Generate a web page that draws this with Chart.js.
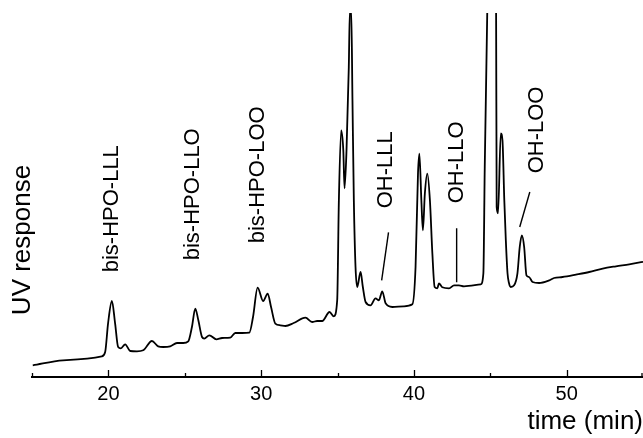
<!DOCTYPE html>
<html lang="en">

<head>
    <meta charset="UTF-8">
    <title>UV chromatogram</title>
    <style>
        body {
            margin: 0;
            background: #fff;
        }

        canvas {
            display: block;
        }
    </style>
    <script src="https://cdn.jsdelivr.net/npm/chart.js"></script>
</head>

<body>
    <canvas id="chart" width="643" height="438"></canvas>

    <script>
        // retention time (min) and detector signal (arbitrary units)
        const times = [
            15.05, 17.03, 19.57, 19.79, 19.98, 20.23, 20.44, 20.64, 20.82, 21.10,
            21.43, 21.87, 22.28, 22.85, 23.26, 23.59, 24.05, 24.49, 24.90, 25.23,
            25.47, 25.69, 25.89, 26.13, 26.28, 26.61, 27.07, 27.44, 27.98, 28.31,
            28.75, 29.23, 29.47, 29.77, 30.13, 30.43, 30.65, 30.93, 31.26, 31.59,
            32.13, 32.90, 33.34, 33.67, 34.00, 34.48, 34.76, 34.98, 35.09, 35.24,
            35.38, 35.46, 35.59, 35.74, 35.81, 35.90, 35.98, 36.07, 36.18, 36.29,
            36.51, 36.66, 36.84, 37.16, 37.49, 37.71, 37.93, 38.15, 38.59, 39.33,
            39.90, 40.11, 40.27, 40.36, 40.49, 40.59, 40.72, 40.88, 41.05, 41.21,
            41.36, 41.54, 41.64, 41.86, 42.30, 42.63, 42.95, 43.28, 44.38, 44.55,
            44.64, 44.82, 45.07, 45.38, 45.42, 45.51, 45.69, 45.80, 45.92, 46.02,
            46.13, 46.23, 46.34, 46.56, 46.78, 46.93, 47.07, 47.22, 47.37, 47.54,
            47.77, 48.20, 48.86, 49.18, 49.73, 50.61, 51.48, 52.36, 53.23, 54.10,
            55.00
        ];
        const response = [
            11.7, 16.7, 20.7, 25.0, 53.7, 76.0, 53.7, 30.0, 28.7, 32.7,
            26.0, 25.7, 26.7, 36.0, 30.7, 30.0, 30.7, 34.0, 34.0, 35.7,
            50.0, 68.4, 56.7, 40.0, 38.4, 41.7, 37.7, 39.0, 39.4, 44.0,
            44.0, 44.4, 60.0, 89.4, 76.0, 83.4, 70.0, 53.4, 51.7, 51.0,
            54.0, 59.4, 55.0, 56.0, 56.0, 65.0, 60.7, 76.7, 176.7, 246.7,
            226.7, 188.7, 226.7, 310.0, 366.7, 366.7, 276.7, 176.7, 110.0, 90.0,
            105.0, 90.0, 75.0, 71.7, 78.7, 76.7, 85.7, 73.7, 70.0, 70.7,
            72.7, 110.0, 203.7, 223.4, 176.7, 146.7, 183.7, 203.4, 176.7, 123.7,
            90.0, 88.7, 93.7, 89.7, 88.7, 91.7, 91.7, 90.7, 92.7, 103.7,
            210.0, 380.0, 520.0, 380.0, 170.0, 163.7, 243.7, 236.7, 176.7, 136.7,
            103.7, 93.7, 90.0, 91.7, 103.7, 130.0, 141.7, 130.0, 101.7, 100.0,
            95.0, 94.0, 96.7, 99.0, 100.0, 102.4, 105.0, 108.4, 110.7, 112.7,
            115.2
        ];

        const tickValues = [20, 30, 40, 50];
        const minorTicks = [15, 25, 35, 45, 55];

        // peak labels: name, time of the text, signal level where the text starts
        const peakNames = ['bis-HPO-LLL', 'bis-HPO-LLO', 'bis-HPO-LOO', 'OH-LLL', 'OH-LLO', 'OH-LOO'];
        const peakLabelTimes = [20.25, 25.56, 29.82, 38.15, 42.85, 48.05];
        const peakLabelLevels = [104.7, 116.7, 133.7, 168.7, 173.7, 203.7];

        // short leader lines from label to peak
        const leaderTimes = [[38.34, 37.89], [42.80, 42.80], [47.59, 46.93]];
        const leaderLevels = [[144.7, 96.7], [148.7, 94.7], [185.0, 150.0]];

        const fontFam = '"Liberation Sans", Arial, Helvetica, sans-serif';

        const leaderSets = leaderTimes.map((ts, i) => ({
            data: ts.map((t, j) => ({ x: t, y: leaderLevels[i][j] })),
            borderColor: '#000',
            borderWidth: 1.4,
            pointRadius: 0,
            tension: 0
        }));

        // inward ticks, axis title and peak labels
        const extras = {
            id: 'extras',
            afterDraw(c) {
                const ctx = c.ctx;
                const xs = c.scales.x;
                const ys = c.scales.y;
                const base = c.chartArea.bottom;
                ctx.save();
                ctx.strokeStyle = '#000';
                ctx.lineWidth = 1.3;
                ctx.beginPath();
                for (const v of tickValues) {
                    const px = Math.round(xs.getPixelForValue(v)) + 0.5;
                    ctx.moveTo(px, base);
                    ctx.lineTo(px, base - 7);
                }
                for (const v of minorTicks) {
                    const px = Math.min(Math.round(xs.getPixelForValue(v)) + 0.5, c.width - 1);
                    ctx.moveTo(px, base);
                    ctx.lineTo(px, base - 4);
                }
                ctx.stroke();

                ctx.fillStyle = '#000';
                ctx.textBaseline = 'middle';
                ctx.textAlign = 'center';
                ctx.font = '26px ' + fontFam;
                ctx.save();
                ctx.translate(23, 240);
                ctx.rotate(-Math.PI / 2);
                ctx.fillText('UV response', 0, 0);
                ctx.restore();

                ctx.font = '22px ' + fontFam;
                ctx.textAlign = 'left';
                peakNames.forEach((name, i) => {
                    const px = xs.getPixelForValue(peakLabelTimes[i]);
                    const py = ys.getPixelForValue(peakLabelLevels[i]);
                    ctx.save();
                    ctx.translate(px, py);
                    ctx.rotate(-Math.PI / 2);
                    ctx.fillText(name, 0, 0);
                    ctx.restore();
                });
                ctx.restore();
            }
        };

        new Chart(document.getElementById('chart'), {
            type: 'line',
            data: {
                datasets: [{
                    data: times.map((t, i) => ({ x: t, y: response[i] })),
                    borderColor: '#000',
                    borderWidth: 1.8,
                    pointRadius: 0,
                    cubicInterpolationMode: 'monotone',
                    clip: 0
                }, ...leaderSets]
            },
            options: {
                responsive: false,
                animation: false,
                devicePixelRatio: 1,
                layout: { padding: { left: 32, top: 13, right: 0, bottom: 0 } },
                plugins: {
                    legend: { display: false },
                    tooltip: { enabled: false }
                },
                scales: {
                    x: {
                        type: 'linear',
                        min: 15,
                        max: 55,
                        grid: { display: false, drawTicks: false },
                        border: { display: true, color: '#000', width: 2 },
                        afterBuildTicks: s => { s.ticks = tickValues.map(v => ({ value: v })); },
                        afterFit: s => { s.height = 61; },
                        ticks: {
                            color: '#000',
                            padding: 7,
                            maxRotation: 0,
                            font: { family: fontFam, size: 20, lineHeight: 1 }
                        },
                        title: {
                            display: true,
                            text: 'time (min)',
                            align: 'end',
                            color: '#000',
                            padding: { top: 0, bottom: 3 },
                            font: { family: fontFam, size: 26, lineHeight: 1 }
                        }
                    },
                    y: {
                        display: false,
                        min: 0,
                        max: 364
                    }
                }
            },
            plugins: [extras]
        });
    </script>
</body>

</html>
